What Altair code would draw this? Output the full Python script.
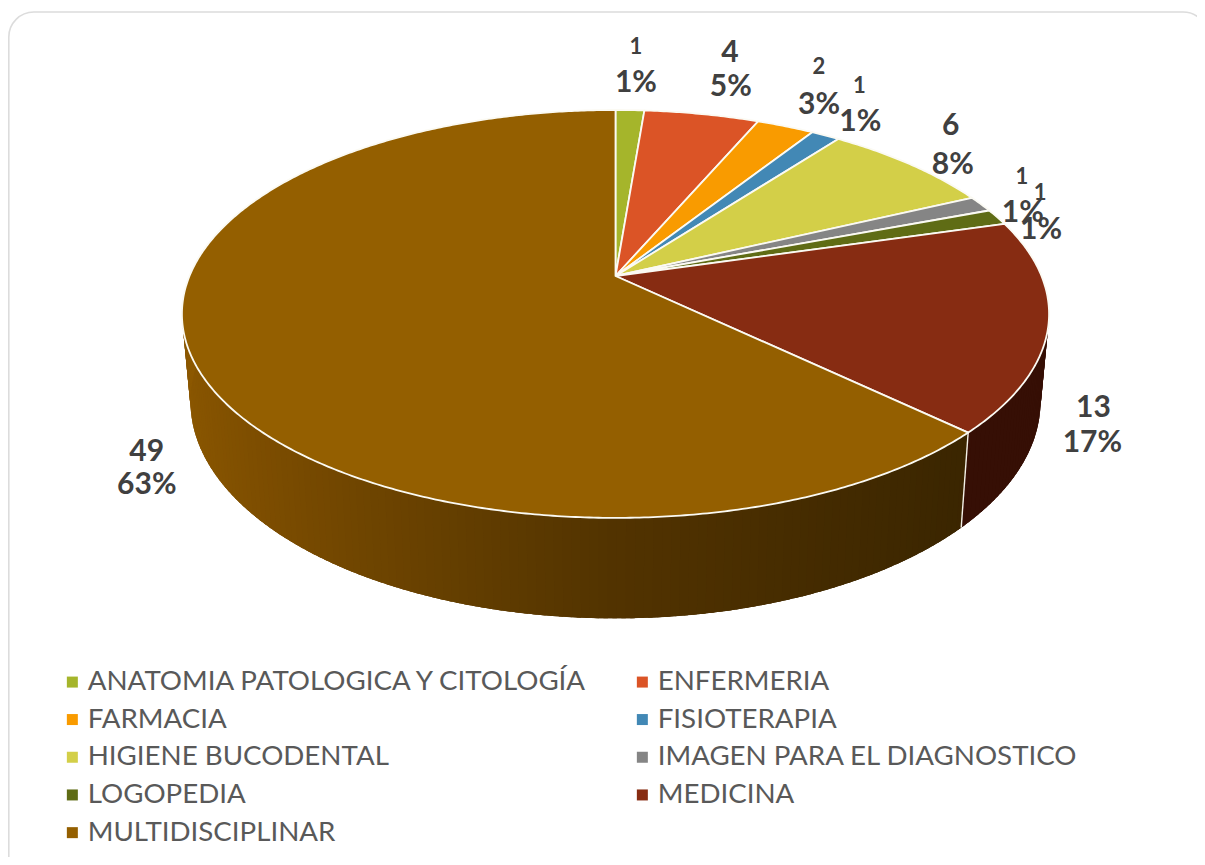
import math
import altair as alt
import pandas as pd

categories = ["ANATOMIA PATOLOGICA Y CITOLOGÍA", "ENFERMERIA", "FARMACIA", "FISIOTERAPIA",
              "HIGIENE BUCODENTAL", "IMAGEN PARA EL DIAGNOSTICO", "LOGOPEDIA", "MEDICINA",
              "MULTIDISCIPLINAR"]
counts = [1, 4, 2, 1, 6, 1, 1, 13, 49]
percents = ["1%", "5%", "3%", "1%", "8%", "1%", "1%", "17%", "63%"]
colors = ["#A5B52B", "#DB5426", "#F99B00", "#4288B5", "#D3CF48", "#858585", "#5F6C15", "#872C12", "#945F00"]

# label offsets from the slice's rim midpoint (count line, percent line)
count_dx = [6, 28, 33.5, 34, 40, 41, 43, 45, -46]
count_dy = [-63, -61, -59, -49.5, -39, -27, -24, 83, 93]
pct_dx = [6, 29, 33.5, 35, 42, 42, 44, 44, -46]
pct_dy = [-27, -27, -21, -13.5, 0, 9, 13, 118, 126]

TOTAL = sum(counts)
K = 0.186
TOP = dict(cx=615.5, cy=276.0, rx=426.0, ry=196.9)
BOT = dict(cx=615.5, cy=361.0, rx=417.6, ry=209.5)


def rim(t_deg, d):
    t = math.radians(t_deg)
    u, v = math.sin(t), math.cos(t)
    f = 1 / (1 + K * v)
    return [d["cx"] + d["rx"] * u * f, d["cy"] - d["ry"] * v * f]


def poly(ring, **props):
    return {"type": "Feature", "properties": props,
            "geometry": {"type": "Polygon", "coordinates": [ring + [ring[0]]]}}


def hex2rgb(h):
    return [int(h[i:i + 2], 16) for i in (1, 3, 5)]


def shade(t_deg):
    u = math.sin(math.radians(t_deg))
    stops = [(-1.0, "#8C5800"), (-0.7, "#7B4C00"), (-0.3, "#633E00"), (0.0, "#523300"),
             (0.4, "#442B00"), (0.8, "#382400")]
    if u <= stops[0][0]:
        return stops[0][1]
    for (a, ca), (b, cb) in zip(stops, stops[1:]):
        if u <= b:
            s = (u - a) / (b - a)
            c = [round(x + (y - x) * s) for x, y in zip(hex2rgb(ca), hex2rgb(cb))]
            return "#%02X%02X%02X" % tuple(c)
    return stops[-1][1]


# slice angles from the counts
starts, ends, acc = [], [], 0
for c in counts:
    starts.append(acc / TOTAL * 360)
    acc += c
    ends.append(acc / TOTAL * 360)

# top surface
top_features = []
for cat, a, b in zip(categories, starts, ends):
    n = max(2, int((b - a) * 2))
    ring = [[TOP["cx"], TOP["cy"]]] + [rim(a + (b - a) * i / n, TOP) for i in range(n + 1)]
    top_features.append(poly(ring, cat=cat))

# wall strips, each painted over the start of the previous one so no seams show
wall_split = ends[7]
wall_features = []
t = 80.0
while t < 285:
    t2 = min(t + 1.0, 285)
    if t < wall_split < t2:
        t2 = wall_split
    col = "#360F05" if (t + t2) / 2 < wall_split else shade((t + t2) / 2)
    n = 4
    b = t2 + 1.5
    ring = [rim(t + (b - t) * i / n, TOP) for i in range(n + 1)] + \
           [rim(b - (b - t) * i / n, BOT) for i in range(n + 1)]
    wall_features.append(poly(ring, c=col))
    t = t2

edge = [{"type": "Feature", "properties": {},
         "geometry": {"type": "LineString", "coordinates": [rim(wall_split, TOP), rim(wall_split, BOT)]}}]

# labels
rows = []
for i in range(len(categories)):
    m = rim((starts[i] + ends[i]) / 2, TOP)
    small = str(counts[i]) in ("1", "2")
    rows.append(dict(lon=m[0] + count_dx[i], lat=m[1] + count_dy[i], text=str(counts[i]),
                     size=22 if small else 30))
    rows.append(dict(lon=m[0] + pct_dx[i], lat=m[1] + pct_dy[i], text=percents[i], size=30))
labels = pd.DataFrame(rows)

proj = dict(type="identity", scale=1, translate=[-8, -8])

frame = alt.Chart(pd.DataFrame({"a": [0]})).mark_rect(
    cornerRadius=25, fill="white", stroke="#DCDCDC", strokeWidth=1.6
).encode(x=alt.value(0.8), x2=alt.value(1200), y=alt.value(4), y2=alt.value(874))

walls = alt.Chart(alt.Data(values=wall_features)).mark_geoshape(strokeWidth=0).encode(
    fill=alt.Fill("properties.c:N", scale=None),
).project(**proj)

wall_edge = alt.Chart(alt.Data(values=edge)).mark_geoshape(
    filled=False, stroke="#F4F1E8", strokeWidth=1.4
).project(**proj)

tops = alt.Chart(alt.Data(values=top_features)).mark_geoshape(
    stroke="#FBFAF3", strokeWidth=1.8, strokeJoin="round"
).encode(
    fill=alt.Fill(
        "properties.cat:N",
        scale=alt.Scale(domain=categories, range=colors),
        legend=alt.Legend(
            title=None, orient="none", legendX=50.5, legendY=660, columns=2,
            direction="horizontal", symbolType="square", symbolSize=121, symbolStrokeWidth=0,
            labelFont="Lato", labelFontSize=27.7, labelColor="#595959", labelOffset=1.5,
            labelLimit=600, rowPadding=8.7, columnPadding=39, gridAlign="each",
            symbolOffset=0, padding=0,
        ),
    )
).project(**proj)

text = alt.Chart(labels).mark_text(
    font="Lato", fontWeight="bold", color="#404040", align="center", baseline="middle"
).encode(
    longitude="lon:Q", latitude="lat:Q", text="text:N",
    size=alt.Size("size:Q", scale=None, legend=None),
).project(**proj)

chart = alt.layer(frame, walls, wall_edge, tops, text).resolve_scale(
    fill="independent"
).properties(width=1189, height=849, padding=0, autosize="none", background="white").configure_view(stroke=None)

chart.save("out.html", embed_options={"renderer": "svg", "actions": False})
